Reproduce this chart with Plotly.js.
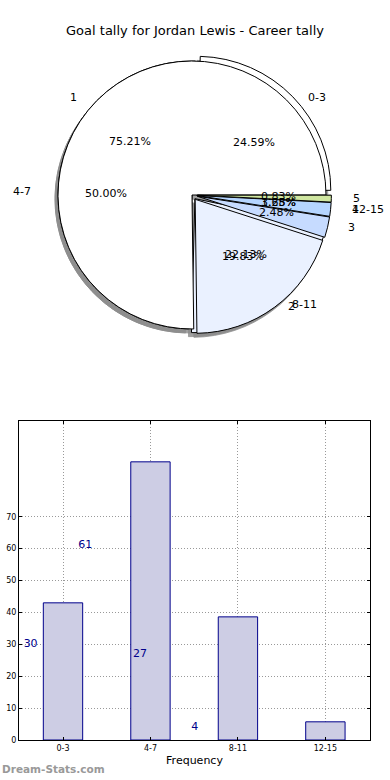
<!DOCTYPE html>
<html>
<head>
<meta charset="utf-8">
<script src="https://cdn.plot.ly/plotly-3.0.1.min.js"></script>
<style>html,body{margin:0;padding:0;background:#fff;}#chart{width:390px;height:780px;}</style>
</head>
<body>
<div id="chart"></div>
<script>
// Pie 1: goal ranges
var rangeLabels = ["0-3", "4-7", "8-11", "12-15"];
var rangeCounts = [30, 61, 27, 4];
// Pie 2: goals per game
var goalLabels = ["1", "2", "3", "4", "5"];
var goalCounts = [91, 24, 3, 2, 1];
// Bar chart
var barCategories = ["0-3", "4-7", "8-11", "12-15"];
var barValues = [43, 87.2, 38.6, 5.7];
var barTextValues = [30, 61, 27, 4];
var yTicks = [0, 10, 20, 30, 40, 50, 60, 70];

var W = 390, H = 780;
var cx = 192, cy = 195, R = 134;
var rangeColors = ["#ffffff", "#ffffff", "#eaf1ff", "#c6dbff"];
var goalColors = ["#ffffff", "#eaf1ff", "#c6dbff", "#b5d5ff", "#cfe6a0"];
var rangePull = [0.05, 0, 0.035, 0.035];
var goalPull = [0, 0.04, 0.04, 0.04, 0.04];

function dom(ox, oy, pull) {
  var mp = Math.max.apply(null, pull);
  var r = R * (1 + mp);
  return {x: [(cx + ox - r) / W, (cx + ox + r) / W], y: [1 - (cy + oy + r) / H, 1 - (cy + oy - r) / H]};
}
// Plotly (counterclockwise) puts the clockwise edge of the first slice at `rotation`;
// choose it so the first slice starts at 3 o'clock like matplotlib.
function startAt3(values) {
  var total = values.reduce(function(a, b){return a + b;}, 0);
  var rot = 90 - 360 * values[0] / total;
  while (rot < -180) rot += 360;
  while (rot > 180) rot -= 360;
  return rot;
}
function pieTrace(labels, values, colors, d, lineColor, pull, op) {
  return {
    type: "pie", labels: labels, values: values, sort: false,
    direction: "counterclockwise", rotation: startAt3(values), domain: d,
    marker: {colors: colors, line: {color: lineColor, width: 1}},
    textinfo: "none", hoverinfo: "skip", showlegend: false, pull: pull, opacity: op || 1
  };
}

var shadowColors1 = rangeCounts.map(function(){return "#8a8a8a";});
var shadowColors2 = goalCounts.map(function(){return "#8a8a8a";});

var traces = [
  pieTrace(rangeLabels, rangeCounts, shadowColors1, dom(-3, 4, rangePull), "#8a8a8a", rangePull, 0.8),
  pieTrace(goalLabels, goalCounts, shadowColors2, dom(-3, 4, goalPull), "#8a8a8a", goalPull, 0.8),
  pieTrace(rangeLabels, rangeCounts, rangeColors, dom(0, 0, rangePull), "#000", rangePull),
  pieTrace(goalLabels, goalCounts, goalColors, dom(0, 0, goalPull), "#000", goalPull)
];

// bar chart
var xIdx = barCategories.map(function(_, i){return i;});
traces.push({
  type: "bar", x: xIdx, y: barValues, width: 0.45, xaxis: "x", yaxis: "y",
  marker: {color: "#cdcde4", line: {color: "#00008b", width: 1}},
  hoverinfo: "skip", showlegend: false
});
traces.push({
  type: "scatter", mode: "text", xaxis: "x", yaxis: "y",
  x: barTextValues.map(function(_, i){return -0.37 + 0.625 * i;}),
  y: barTextValues, text: barTextValues.map(String),
  textfont: {family: "DejaVu Sans", size: 11, color: "#00008b"},
  hoverinfo: "skip", showlegend: false
});

// pie labels (matplotlib style: labels at 1.1 r, percentages at 0.6 r, on a slightly elliptical frame)
var annotations = [];
var RX = 136 * 1.06, RY = 136 * 0.93;
function addPieText(labels, values) {
  var total = values.reduce(function(a, b){return a + b;}, 0);
  var cum = 0;
  labels.forEach(function(lab, i) {
    var frac = values[i] / total;
    var mid = (cum + frac / 2) * 2 * Math.PI;
    cum += frac;
    var c = Math.cos(mid), s = Math.sin(mid);
    var lx = cx + 1.1 * RX * c, ly = cy - 1.1 * RY * s;
    annotations.push({xref: "paper", yref: "paper", x: lx / W, y: 1 - ly / H,
      text: lab, showarrow: false, xanchor: c >= 0 ? "left" : "right", yanchor: "middle",
      font: {family: "DejaVu Sans", size: 11, color: "#000"}});
    var px = cx + 0.6 * RX * c, py = cy - 0.6 * RY * s;
    annotations.push({xref: "paper", yref: "paper", x: px / W, y: 1 - py / H,
      text: (frac * 100).toFixed(2) + "%", showarrow: false, xanchor: "center", yanchor: "middle",
      font: {family: "DejaVu Sans", size: 11, color: "#000"}});
  });
}
addPieText(rangeLabels, rangeCounts);
addPieText(goalLabels, goalCounts);

annotations.push({xref: "paper", yref: "paper", x: 0, y: 1 - 777 / H, xanchor: "left", yanchor: "bottom",
  text: "<b>Dream-Stats.com</b>", showarrow: false,
  font: {family: "DejaVu Sans", size: 10.5, color: "#999"}});

var layout = {
  width: W, height: H, margin: {l: 0, r: 0, t: 0, b: 0},
  paper_bgcolor: "#fff", plot_bgcolor: "#fff",
  title: {text: "Goal tally for Jordan Lewis - Career tally", x: 0.5, xanchor: "center", y: 1 - 30 / H, yanchor: "middle",
    font: {family: "DejaVu Sans", size: 13, color: "#000"}},
  xaxis: {domain: [19 / W, 370 / W], anchor: "y", range: [-0.503, 3.51],
    tickvals: xIdx, ticktext: barCategories, showgrid: true, gridcolor: "#999", griddash: "1px,2px", gridwidth: 1,
    showline: true, linecolor: "#000", mirror: "ticks", ticks: "inside", ticklen: 3, tickcolor: "#000",
    zeroline: false, tickfont: {family: "DejaVu Sans", size: 8, color: "#000"},
    title: {text: "Frequency", font: {family: "DejaVu Sans", size: 11, color: "#000"}, standoff: 4}},
  yaxis: {domain: [1 - 740 / H, 1 - 421 / H], anchor: "x", range: [0, 100],
    tickvals: yTicks, showgrid: true, gridcolor: "#999", griddash: "1px,2px", gridwidth: 1,
    showline: true, linecolor: "#000", mirror: "ticks", ticks: "inside", ticklen: 3, tickcolor: "#000",
    zeroline: false, tickfont: {family: "DejaVu Sans", size: 8, color: "#000"}},
  annotations: annotations
};

Plotly.newPlot("chart", traces, layout, {displayModeBar: false, staticPlot: true});
</script>
</body>
</html>
